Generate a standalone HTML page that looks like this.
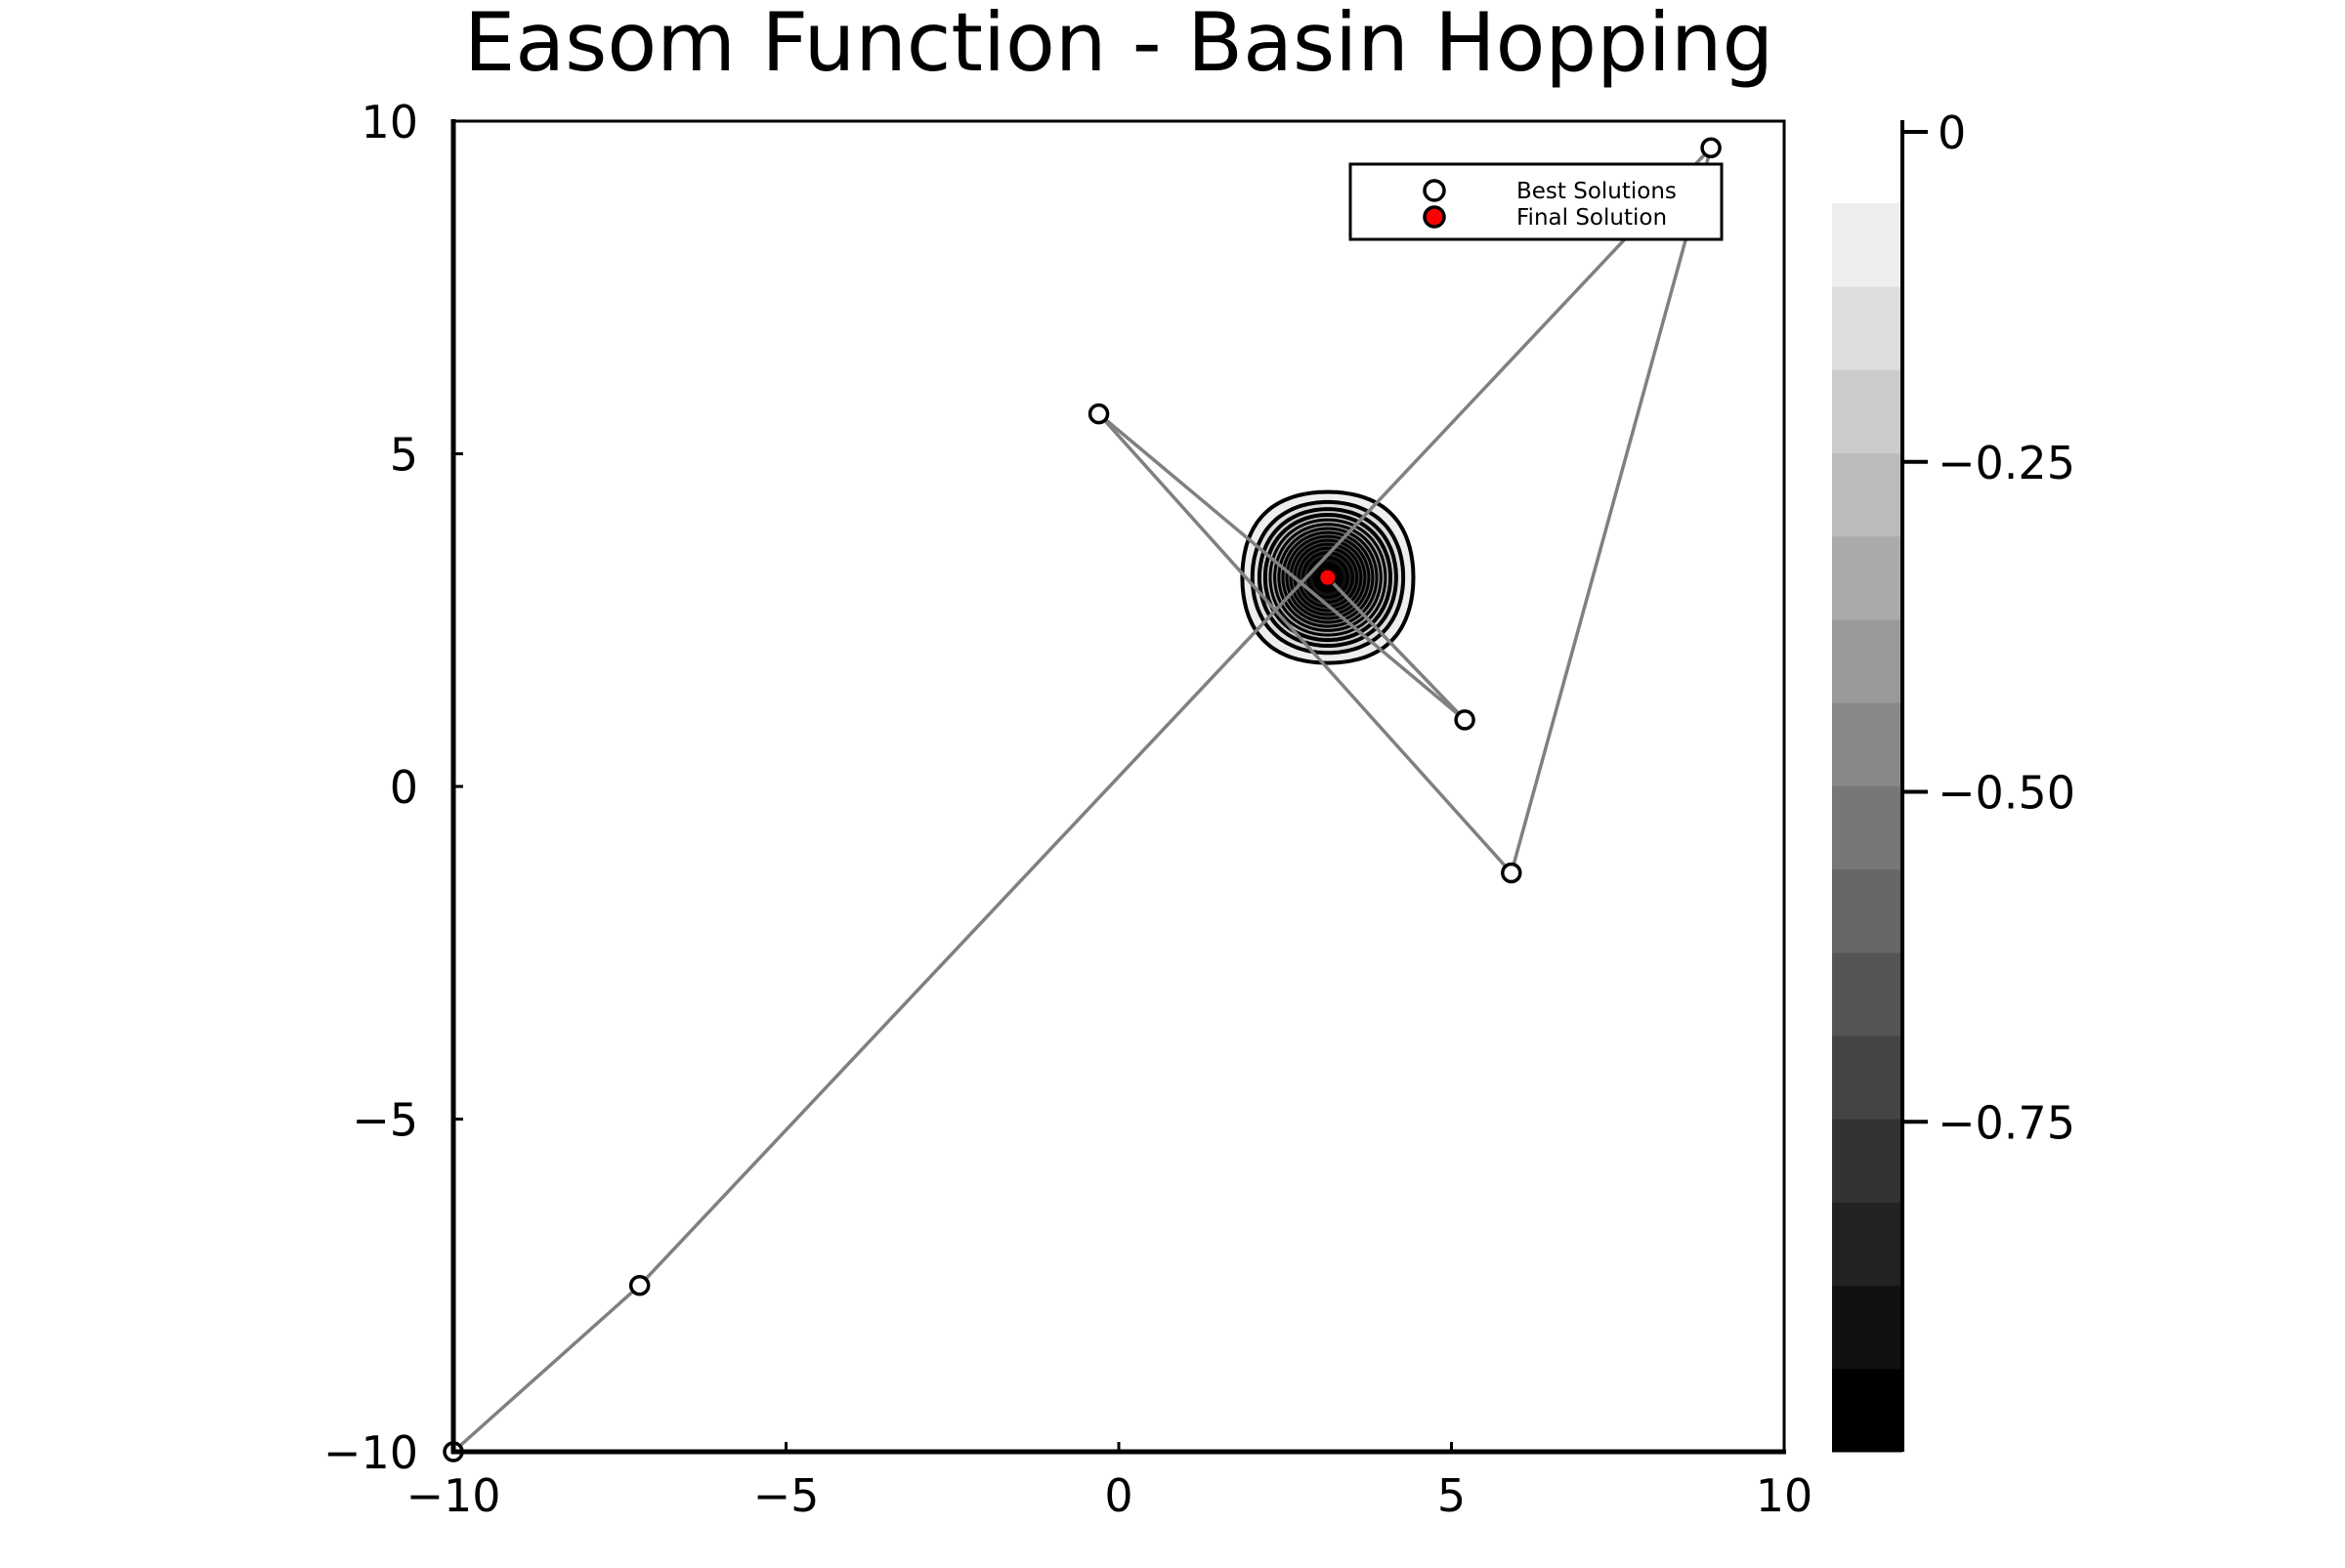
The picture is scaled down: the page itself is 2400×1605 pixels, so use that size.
<!DOCTYPE html>
<html><head><meta charset="utf-8"><style>
html,body{margin:0;padding:0;background:#fff;}
svg text{font-family:"DejaVu Sans","Liberation Sans",sans-serif;}
</style></head><body>
<svg id="chart" width="2400" height="1600" viewBox="0 0 2400 1600" xmlns="http://www.w3.org/2000/svg">
<rect width="2400" height="1600" fill="#fff"/>
<text x="1145" y="72" font-size="83" text-anchor="middle">Easom Function - Basin Hopping</text>
<g id="contours"></g>
<g id="pathg"></g>
<g id="axes"></g>
<g id="cbar"></g>
<g>
<rect x="1382" y="168" width="380" height="77" fill="#fff" stroke="#000" stroke-width="3"/>
<circle cx="1468" cy="195" r="10" fill="#fff" stroke="#000" stroke-width="3.5"/>
<circle cx="1468" cy="222" r="10" fill="#f00" stroke="#000" stroke-width="3.5"/>
<text x="1552" y="203" font-size="23">Best Solutions</text>
<text x="1552" y="230" font-size="23">Final Solution</text>
</g>
</svg>
<script>
const pathX = [-10, -7.2, 8.9, 5.9, -0.3, 5.2];
const pathY = [-10, -7.5, 9.6, -1.3, 5.6, 1.0];
const finalX = [3.14];
const finalY = [3.14];
const xTicks = [-10, -5, 0, 5, 10];
const yTicks = [-10, -5, 0, 5, 10];
const cbTicks = [0, -0.25, -0.5, -0.75];
const cbTickLabels = ["0", "\u22120.25", "\u22120.50", "\u22120.75"];
const nLevels = 15;
const levelMin = -1, levelMax = -0.054;

const NS = "http://www.w3.org/2000/svg";
const L = 464, R = 1826, T = 124, B = 1486;
const sx = v => L + (v + 10) / 20 * (R - L);
const sy = v => B - (v + 10) / 20 * (B - T);
const cbL = 1875, cbR = 1947, cbTop0 = 135, cbBot = 1486;
const cy = v => cbTop0 + (0 - v) / 1 * (cbBot - cbTop0);
function mk(tag, attrs, parent) {
  const e = document.createElementNS(NS, tag);
  for (const k in attrs) e.setAttribute(k, attrs[k]);
  parent.appendChild(e); return e;
}
const fmt = v => v < 0 ? "\u2212" + Math.abs(v) : "" + v;
const easom = (x, y) => -Math.cos(x) * Math.cos(y) * Math.exp(-((x - Math.PI) ** 2 + (y - Math.PI) ** 2));

const cg = document.getElementById('contours');
const levels = [];
for (let k = 0; k <= nLevels; k++) levels.push(levelMin + k * (levelMax - levelMin) / nLevels);
for (let k = nLevels; k >= 1; k--) {
  const lev = levels[k];
  const pts = [];
  for (let a = 0; a < 360; a += 2) {
    const t = a * Math.PI / 180, dx = Math.cos(t), dy = Math.sin(t);
    let r0 = 0, r1 = 0;
    for (let r = 0.005; r < 2.5; r += 0.01) {
      if (easom(Math.PI + r * dx, Math.PI + r * dy) >= lev) { r1 = r; r0 = r - 0.01; break; }
    }
    for (let i = 0; i < 30; i++) {
      const m = (r0 + r1) / 2;
      if (easom(Math.PI + m * dx, Math.PI + m * dy) >= lev) r1 = m; else r0 = m;
    }
    const r = (r0 + r1) / 2;
    pts.push(sx(Math.PI + r * dx).toFixed(1) + "," + sy(Math.PI + r * dy).toFixed(1));
  }
  const g = 17 * (k - 1);
  const p = mk('polygon', {points: pts.join(' '), fill: `rgb(${g},${g},${g})`, stroke: '#000', 'stroke-width': k >= nLevels - 3 ? 4 : 3}, cg);
  
  
}

const pg = document.getElementById('pathg');
const lp = [];
for (let i = 0; i < pathX.length; i++) lp.push(sx(pathX[i]) + "," + sy(pathY[i]));
lp.push(sx(finalX[0]) + "," + sy(finalY[0]));
const pl = mk('polyline', {points: lp.join(' '), fill: 'none', stroke: '#808080', 'stroke-width': 3.5}, pg);


for (let i = 0; i < pathX.length; i++) {
  const c = mk('circle', {cx: sx(pathX[i]), cy: sy(pathY[i]), r: 9, fill: '#fff', stroke: '#000', 'stroke-width': 3.5}, pg);
  
  
}
const fc = mk('circle', {cx: sx(finalX[0]), cy: sy(finalY[0]), r: 8, fill: '#f00', stroke: '#000', 'stroke-width': 1}, pg);



const ag = document.getElementById('axes');
mk('rect', {x: L, y: T, width: R - L, height: B - T, fill: 'none', stroke: '#000', 'stroke-width': 3}, ag);
mk('line', {x1: L, y1: T - 2, x2: L, y2: B + 2, stroke: '#000', 'stroke-width': 5}, ag);
mk('line', {x1: L - 2, y1: B, x2: R + 2, y2: B, stroke: '#000', 'stroke-width': 5}, ag);
xTicks.forEach(v => {
  mk('line', {x1: sx(v), y1: B, x2: sx(v), y2: B - 10, stroke: '#000', 'stroke-width': 3}, ag);
  const t = mk('text', {x: sx(v), y: 1547, 'font-size': 46, 'text-anchor': 'middle'}, ag);
  t.textContent = fmt(v);
  
  
});
yTicks.forEach(v => {
  mk('line', {x1: L, y1: sy(v), x2: L + 10, y2: sy(v), stroke: '#000', 'stroke-width': 3}, ag);
  const t = mk('text', {x: 428, y: sy(v) + 17, 'font-size': 46, 'text-anchor': 'end'}, ag);
  t.textContent = fmt(v);
  
  
});

const cb = document.getElementById('cbar');
for (let k = 0; k < nLevels; k++) {
  const g = 17 * k;
  const y1 = cy(levels[k + 1]), y0 = cy(levels[k]);
  const r = mk('rect', {x: cbL, y: y1, width: cbR - cbL, height: y0 - y1 + 0.5, fill: `rgb(${g},${g},${g})`}, cb);
  
  
}
mk('line', {x1: cbR, y1: 123, x2: cbR, y2: cbBot, stroke: '#000', 'stroke-width': 4}, cb);
cbTicks.forEach((v, i) => {
  mk('line', {x1: cbR, y1: cy(v), x2: 1973, y2: cy(v), stroke: '#000', 'stroke-width': 4}, cb);
  const t = mk('text', {x: 1983, y: cy(v) + 17, 'font-size': 46}, cb);
  t.textContent = cbTickLabels[i];
  
  
});
</script>
</body></html>
